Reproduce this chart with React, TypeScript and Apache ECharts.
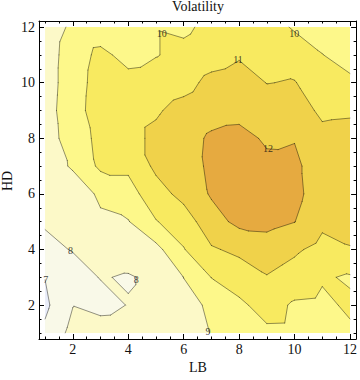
import React, { useEffect, useRef } from "react";
import * as echarts from "echarts";

// ---------- data ----------
const lbValues = [1, 2, 3, 4, 5, 6, 7, 8, 9, 10, 11, 12];
const hdValues = [1, 2, 3, 4, 5, 6, 7, 8, 9, 10, 11, 12];

// volatility by HD row (LB = 1..12 across)
const volHD1 = [7.2, 8.3, 8.72, 8.8, 8.6, 8.6, 9.03, 9.5, 9.8, 9.78, 9.5, 9.85];
const volHD2 = [6.8, 7.97, 7.55, 8.05, 8.19, 8.7, 9.15, 9.8, 10.4, 9.87, 9.8, 10.15];
const volHD3 = [7.02, 7.5, 8.05, 7.93, 8.17, 9.01, 10.02, 10.5, 10.95, 10.6, 10.1, 9.9];
const volHD4 = [7.7, 8.06, 8.4, 8.43, 8.7, 9.95, 10.9, 11.2, 11.5, 11.15, 10.7, 10.95];
const volHD5 = [8.12, 8.5, 8.85, 8.95, 9.95, 10.5, 11.6, 12.25, 12.3, 12.02, 11.2, 11.3];
const volHD6 = [8.4, 8.5, 9.15, 9.6, 10.6, 11.3, 12.1, 12.5, 12.5, 12.3, 11.4, 11.5];
const volHD7 = [8.55, 9.1, 10.2, 10.2, 11.2, 11.5, 12.2, 12.55, 12.25, 12.22, 11.4, 11.5];
const volHD8 = [8.6, 9.4, 10.3, 10.7, 11.2, 11.6, 12.15, 12.35, 11.85, 11.95, 11.3, 11.4];
const volHD9 = [8.65, 9.5, 10.6, 10.7, 10.9, 11.3, 11.6, 11.65, 11.5, 11.5, 10.8, 10.85];
const volHD10 = [8.6, 9.45, 10.5, 10.4, 10.5, 10.7, 11.25, 11.4, 10.98, 11.05, 10.4, 10.2];
const volHD11 = [8.6, 9.4, 10.3, 9.6, 9.95, 10.3, 10.6, 10.9, 10.7, 10.5, 10.02, 9.6];
const volHD12 = [8.55, 9.15, 9.3, 9.5, 9.95, 9.8, 10.3, 10.5, 10.4, 9.9, 9.6, 9.3];
const volatility = [volHD1, volHD2, volHD3, volHD4, volHD5, volHD6, volHD7, volHD8, volHD9, volHD10, volHD11, volHD12];

const contourLevels = [7, 8, 9, 10, 11, 12];
const bandColors = ["#e9edf9", "#f9f9e8", "#fcf9c8", "#fdf88a", "#f8ea60", "#f0d24a", "#e6aa40"];

const majorTicks = [2, 4, 6, 8, 10, 12];
const minorTicks = [1, 1.5, 2, 2.5, 3, 3.5, 4, 4.5, 5, 5.5, 6, 6.5, 7, 7.5, 8, 8.5, 9, 9.5, 10, 10.5, 11, 11.5, 12];

const contourLabelLB = [5.21, 9.99, 7.96, 9.04, 1.92, 4.29, 1.02, 6.88];
const contourLabelHD = [11.78, 11.78, 10.82, 7.65, 3.98, 2.92, 2.92, 1.06];
const contourLabelText = ["10", "10", "11", "12", "8", "8", "7", "9"];

const axisMin = 0.78;
const axisMax = 12.22;
const FONT = "'Liberation Serif', 'DejaVu Serif', serif";

// ---------- contour helpers ----------
type P = [number, number, number];

function clipAbove(poly: P[], L: number): P[] {
  const out: P[] = [];
  for (let i = 0; i < poly.length; i++) {
    const a = poly[i];
    const b = poly[(i + 1) % poly.length];
    const ain = a[2] >= L;
    const bin = b[2] >= L;
    if (ain) out.push(a);
    if (ain !== bin) {
      const t = (L - a[2]) / (b[2] - a[2]);
      out.push([a[0] + t * (b[0] - a[0]), a[1] + t * (b[1] - a[1]), L]);
    }
  }
  return out;
}

function buildTriangles(): P[][] {
  const tris: P[][] = [];
  for (let j = 0; j < hdValues.length - 1; j++) {
    for (let i = 0; i < lbValues.length - 1; i++) {
      const A: P = [lbValues[i], hdValues[j], volatility[j][i]];
      const B: P = [lbValues[i + 1], hdValues[j], volatility[j][i + 1]];
      const C: P = [lbValues[i], hdValues[j + 1], volatility[j + 1][i]];
      const D: P = [lbValues[i + 1], hdValues[j + 1], volatility[j + 1][i + 1]];
      tris.push([A, B, C], [B, D, C]);
    }
  }
  return tris;
}

function renderContours(_params: any, api: any) {
  const tris = buildTriangles();
  const pt = (x: number, y: number) => {
    const c = api.coord([x, y]);
    return c[0].toFixed(2) + " " + c[1].toFixed(2);
  };
  const children: any[] = [];
  const fills = [-Infinity, ...contourLevels];
  fills.forEach((L, k) => {
    let d = "";
    for (const t of tris) {
      const poly = L === -Infinity ? t : clipAbove(t, L);
      if (poly.length < 3) continue;
      d += "M" + poly.map((p) => pt(p[0], p[1])).join("L") + "Z";
    }
    if (d) {
      children.push({
        type: "path",
        shape: { pathData: d },
        style: { fill: bandColors[k], stroke: null },
        silent: true,
      });
    }
  });
  let ld = "";
  for (const t of tris) {
    for (const L of contourLevels) {
      const pts: number[][] = [];
      for (let e = 0; e < 3; e++) {
        const a = t[e];
        const b = t[(e + 1) % 3];
        if ((a[2] >= L) !== (b[2] >= L)) {
          const s = (L - a[2]) / (b[2] - a[2]);
          pts.push([a[0] + s * (b[0] - a[0]), a[1] + s * (b[1] - a[1])]);
        }
      }
      if (pts.length === 2) ld += "M" + pt(pts[0][0], pts[0][1]) + "L" + pt(pts[1][0], pts[1][1]);
    }
  }
  children.push({
    type: "path",
    shape: { pathData: ld },
    style: { fill: "none", stroke: "rgba(0,0,0,0.42)", lineWidth: 1, lineJoin: "round", lineCap: "round" },
    silent: true,
  });
  return { type: "group", children };
}

// ---------- axes ----------
function makeAxis(position: string, ticks: number[], len: number, main: boolean, labelMargin: number) {
  return {
    type: "value",
    position,
    min: axisMin,
    max: axisMax,
    gridIndex: 0,
    axisLine: { show: main, onZero: false, lineStyle: { color: "#000", width: 1 } },
    axisTick: { show: true, inside: true, length: len, customValues: ticks, lineStyle: { color: "#000", width: 1 } },
    axisLabel: {
      show: main && (position === "bottom" || position === "left"),
      customValues: majorTicks,
      margin: labelMargin,
      fontFamily: FONT,
      fontSize: 14,
      color: "#111",
    },
    splitLine: { show: false },
  };
}

export default function App() {
  const ref = useRef<HTMLDivElement>(null);
  useEffect(() => {
    const chart = echarts.init(ref.current!, null, { renderer: "svg" });
    const option: any = {
      animation: false,
      backgroundColor: "#ffffff",
      grid: { left: 39, top: 21, width: 318, height: 318, containLabel: false },
      xAxis: [
        makeAxis("bottom", majorTicks, 5, true, 3),
        makeAxis("bottom", minorTicks, 2.5, false, 3),
        makeAxis("top", majorTicks, 5, true, 3),
        makeAxis("top", minorTicks, 2.5, false, 3),
      ],
      yAxis: [
        makeAxis("left", majorTicks, 5, true, 4),
        makeAxis("left", minorTicks, 2.5, false, 4),
        makeAxis("right", majorTicks, 5, true, 4),
        makeAxis("right", minorTicks, 2.5, false, 4),
      ],
      series: [
        {
          type: "custom",
          coordinateSystem: "cartesian2d",
          xAxisIndex: 0,
          yAxisIndex: 0,
          data: [[lbValues[0], hdValues[0]]],
          renderItem: renderContours,
          silent: true,
          z: 1,
        },
        {
          type: "scatter",
          xAxisIndex: 0,
          yAxisIndex: 0,
          symbolSize: 1,
          itemStyle: { color: "rgba(0,0,0,0)" },
          data: contourLabelLB.map((x, i) => ({ value: [x, contourLabelHD[i]], name: contourLabelText[i] })),
          label: {
            show: true,
            position: "inside",
            formatter: "{b}",
            fontFamily: FONT,
            fontSize: 10,
            color: "#111",
          },
          silent: true,
          z: 5,
        },
      ],
      graphic: [
        {
          type: "text",
          x: 198,
          y: 6,
          style: { text: "Volatility", textAlign: "center", textVerticalAlign: "middle", font: "14px " + FONT, fill: "#111" },
        },
        {
          type: "text",
          x: 198,
          y: 367.5,
          style: { text: "LB", textAlign: "center", textVerticalAlign: "middle", font: "14px " + FONT, fill: "#111" },
        },
        {
          type: "text",
          x: 7,
          y: 181,
          rotation: Math.PI / 2,
          style: { text: "HD", textAlign: "center", textVerticalAlign: "middle", font: "14px " + FONT, fill: "#111" },
        },
      ],
    };
    chart.setOption(option);
    return () => chart.dispose();
  }, []);
  return <div ref={ref} style={{ position: "absolute", left: 0, top: 0, width: 360, height: 380 }} />;
}
